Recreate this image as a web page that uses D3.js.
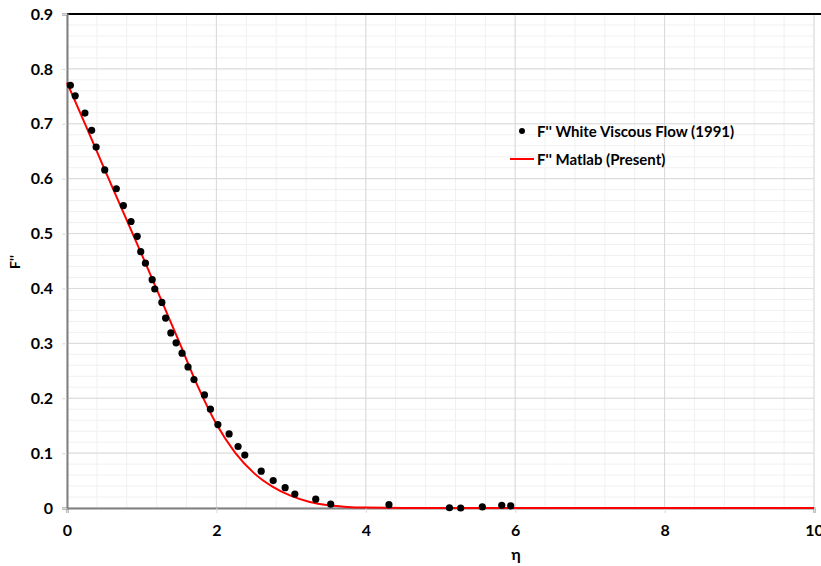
<!DOCTYPE html>
<html>
<head>
<meta charset="utf-8">
<script src="https://cdn.jsdelivr.net/npm/d3@7"></script>
<style>
  body { margin: 0; background: #fff; }
  text { font-family: Lato, "Open Sans", sans-serif; font-weight: bold; fill: #000; }
</style>
</head>
<body>
<svg width="821" height="566"></svg>
<script>
// White Viscous Flow (1991) points
const whiteEta = [0.045, 0.11, 0.24, 0.33, 0.39, 0.505, 0.66, 0.755, 0.857, 0.94, 0.987, 1.05, 1.14, 1.175,
  1.27, 1.32, 1.39, 1.46, 1.54, 1.62, 1.70, 1.84, 1.92, 2.02, 2.17, 2.29, 2.38, 2.60, 2.76, 2.92, 3.05,
  3.33, 3.53, 4.31, 5.12, 5.27, 5.56, 5.82, 5.94];
const whiteF = [0.770, 0.751, 0.7195, 0.688, 0.6575, 0.616, 0.5816, 0.551, 0.522, 0.495, 0.467, 0.446, 0.416, 0.399,
  0.3745, 0.346, 0.319, 0.301, 0.282, 0.257, 0.234, 0.206, 0.180, 0.152, 0.135, 0.112, 0.0965, 0.067, 0.050, 0.037, 0.0255,
  0.016, 0.007, 0.006, 0.0005, 0, 0.002, 0.005, 0.004];

// Matlab (Present) curve
const matlabEta = [0, 0.25, 0.5, 0.75, 1.0, 1.25, 1.5, 1.75, 2.0, 2.25, 2.5, 2.75, 3.0, 3.25, 3.5, 3.75, 4.0, 4.5, 5, 6, 8, 10];
const matlabF = [0.775, 0.697, 0.618, 0.540, 0.462, 0.383, 0.303, 0.222, 0.153, 0.101, 0.064, 0.039, 0.022, 0.011, 0.005, 0.002, 0.0007, 0, 0, 0, 0, 0];

const xTicks = [0, 2, 4, 6, 8, 10];
const yTicks = [0, 0.1, 0.2, 0.3, 0.4, 0.5, 0.6, 0.7, 0.8, 0.9];
const legendLabels = ["F'' White Viscous Flow (1991)", "F'' Matlab (Present)"];

let svg = d3.select("svg"),
    margin = {top: 14, right: 7, bottom: 58, left: 67},
    width = +svg.attr("width") - margin.left - margin.right,
    height = +svg.attr("height") - margin.top - margin.bottom;

let g = svg.append("g")
  .attr("transform", "translate(" + margin.left + "," + margin.top + ")");

let x = d3.scaleLinear().domain([0, 10]).range([0, width]);
let y = d3.scaleLinear().domain([0, 0.9]).range([height, 0]);

// minor grid
g.append("g").selectAll("line")
  .data(d3.range(0, 10.001, 0.4))
  .join("line")
    .attr("x1", d => x(d)).attr("x2", d => x(d))
    .attr("y1", 0).attr("y2", height)
    .attr("stroke", "#f0f0f0");
g.append("g").selectAll("line")
  .data(d3.range(0, 0.9001, 0.02))
  .join("line")
    .attr("x1", 0).attr("x2", width)
    .attr("y1", d => y(d)).attr("y2", d => y(d))
    .attr("stroke", "#f0f0f0");

// major grid
g.append("g").selectAll("line")
  .data(xTicks)
  .join("line")
    .attr("x1", d => x(d)).attr("x2", d => x(d))
    .attr("y1", 0).attr("y2", height)
    .attr("stroke", "#d9d9d9");
g.append("g").selectAll("line")
  .data(yTicks)
  .join("line")
    .attr("x1", 0).attr("x2", width)
    .attr("y1", d => y(d)).attr("y2", d => y(d))
    .attr("stroke", "#d9d9d9");

// top border
g.append("line")
  .attr("x1", 0).attr("x2", width + margin.right)
  .attr("y1", 0).attr("y2", 0)
  .attr("stroke", "#000").attr("stroke-width", 2);

// x axis
let xAxis = g.append("g")
    .attr("transform", "translate(0," + height + ")")
    .call(d3.axisBottom(x).tickValues(xTicks).tickSize(5).tickPadding(12).tickFormat(d3.format("d")));
xAxis.select(".domain").attr("stroke", "#808080").attr("stroke-width", 2);
xAxis.selectAll(".tick line").attr("stroke", "#d9d9d9");
xAxis.selectAll("text").attr("font-size", 16).attr("font-family", null);

// y axis
let yAxis = g.append("g")
    .call(d3.axisLeft(y).tickValues(yTicks).tickSize(5).tickPadding(9).tickFormat(d => d === 0 ? "0" : d3.format(".1f")(d)));
yAxis.select(".domain").attr("stroke", "#808080").attr("stroke-width", 2);
yAxis.selectAll(".tick line").attr("stroke", "#d9d9d9");
yAxis.selectAll("text").attr("font-size", 16).attr("font-family", null);

// axis titles
svg.append("text")
  .attr("x", 516).attr("y", 560)
  .attr("text-anchor", "middle")
  .attr("font-size", 16)
  .text("η");
svg.append("text")
  .attr("transform", "translate(20,262) rotate(-90)")
  .attr("text-anchor", "middle")
  .attr("font-size", 14)
  .text("F''");

// Matlab line
let line = d3.line()
  .x(d => x(d[0]))
  .y(d => y(d[1]))
  .curve(d3.curveMonotoneX);

g.append("path")
  .datum(matlabEta.map((e, i) => [e, matlabF[i]]))
  .attr("fill", "none")
  .attr("stroke", "#ff0000")
  .attr("stroke-width", 2)
  .attr("d", line);

// White points
g.append("g").selectAll("circle")
  .data(whiteEta.map((e, i) => [e, whiteF[i]]))
  .join("circle")
    .attr("cx", d => x(d[0]))
    .attr("cy", d => y(d[1]))
    .attr("r", 3.6)
    .attr("fill", "#000");

// legend
let legend = svg.append("g").attr("transform", "translate(510,131)");
legend.append("circle").attr("cx", 12).attr("cy", 0).attr("r", 3).attr("fill", "#000");
legend.append("text").attr("x", 27).attr("y", 5.5).attr("font-size", 15).text(legendLabels[0]);
legend.append("line").attr("x1", 0).attr("x2", 24).attr("y1", 28).attr("y2", 28)
  .attr("stroke", "#ff0000").attr("stroke-width", 2);
legend.append("text").attr("x", 27).attr("y", 33.5).attr("font-size", 15).text(legendLabels[1]);
</script>
</body>
</html>
